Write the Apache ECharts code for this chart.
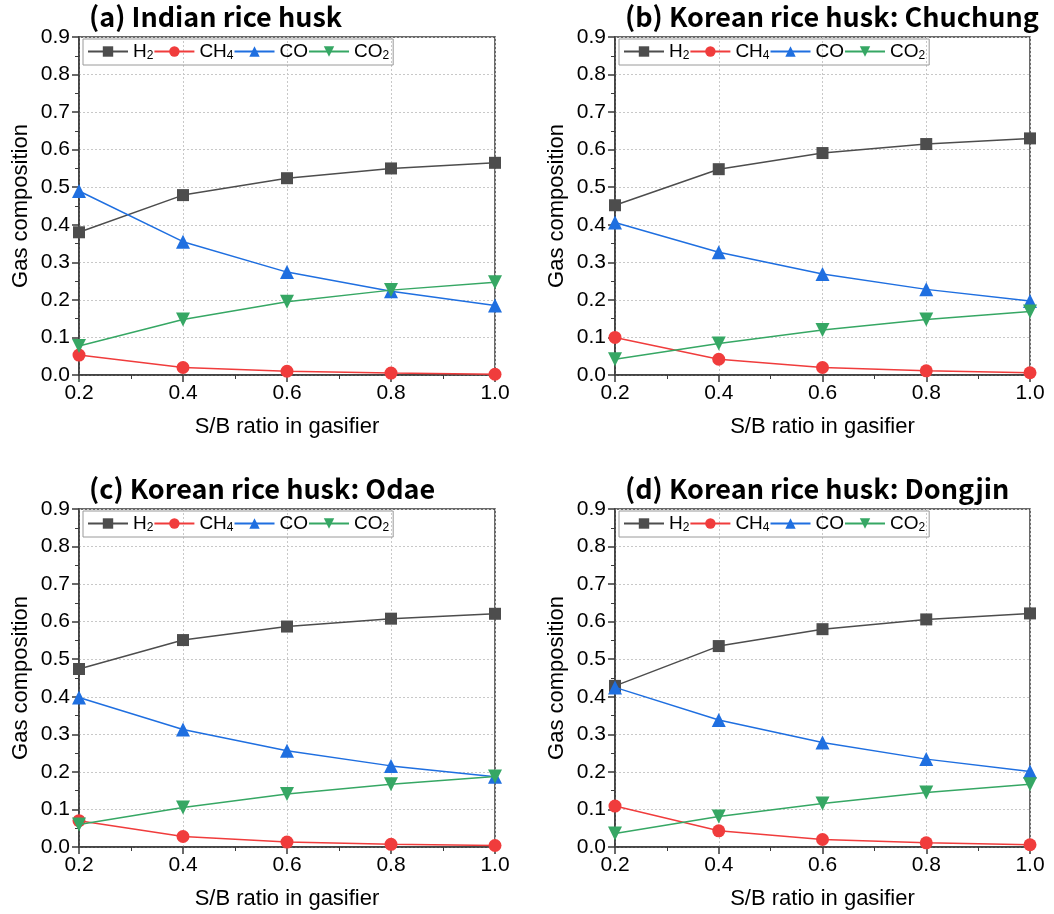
<!DOCTYPE html>
<html>
<head>
<meta charset="utf-8">
<script src="https://cdn.jsdelivr.net/npm/echarts@6/dist/echarts.min.js"></script>
<style>
  html, body { margin: 0; padding: 0; background: #fff; }
  #chart { width: 1054px; height: 914px; }
</style>
</head>
<body>
<div id="chart"></div>
<script>
// S/B ratio values shared by every panel
const sbRatio = [0.2, 0.4, 0.6, 0.8, 1.0]
const gasNames = ['H2', 'CH4', 'CO', 'CO2']
const panelTitles = [
  '(a) Indian rice husk',
  '(b) Korean rice husk: Chuchung',
  '(c) Korean rice husk: Odae',
  '(d) Korean rice husk: Dongjin'
]

// (a) Indian rice husk
const indianH2 = [0.380, 0.479, 0.524, 0.550, 0.565]
const indianCH4 = [0.053, 0.020, 0.010, 0.005, 0.002]
const indianCO = [0.490, 0.355, 0.274, 0.223, 0.185]
const indianCO2 = [0.077, 0.148, 0.195, 0.226, 0.247]

// (b) Chuchung
const chuchungH2 = [0.452, 0.548, 0.591, 0.615, 0.630]
const chuchungCH4 = [0.100, 0.042, 0.020, 0.011, 0.006]
const chuchungCO = [0.406, 0.327, 0.269, 0.228, 0.197]
const chuchungCO2 = [0.042, 0.084, 0.120, 0.148, 0.169]

// (c) Odae
const odaeH2 = [0.474, 0.551, 0.587, 0.608, 0.621]
const odaeCH4 = [0.070, 0.028, 0.013, 0.007, 0.004]
const odaeCO = [0.398, 0.313, 0.256, 0.216, 0.187]
const odaeCO2 = [0.060, 0.105, 0.141, 0.167, 0.188]

// (d) Dongjin
const dongjinH2 = [0.429, 0.535, 0.580, 0.606, 0.622]
const dongjinCH4 = [0.109, 0.043, 0.020, 0.011, 0.006]
const dongjinCO = [0.425, 0.338, 0.278, 0.234, 0.201]
const dongjinCO2 = [0.036, 0.081, 0.116, 0.145, 0.167]

const yTicks = [0, 0.1, 0.2, 0.3, 0.4, 0.5, 0.6, 0.7, 0.8, 0.9]

const panelData = [
  [indianH2, indianCH4, indianCO, indianCO2],
  [chuchungH2, chuchungCH4, chuchungCO, chuchungCO2],
  [odaeH2, odaeCH4, odaeCO, odaeCO2],
  [dongjinH2, dongjinCH4, dongjinCO, dongjinCO2]
]

const gasStyles = [
  { color: '#4d4d4d', symbol: 'rect', rotate: 0, size: 12 },
  { color: '#f03c3c', symbol: 'circle', rotate: 0, size: 13 },
  { color: '#1f6fe0', symbol: 'triangle', rotate: 0, size: 14 },
  { color: '#36a764', symbol: 'triangle', rotate: 180, size: 14 }
]

const gridBoxes = [
  { left: 79, top: 37, width: 416, height: 338 },
  { left: 615, top: 37, width: 415, height: 338 },
  { left: 79, top: 509, width: 416, height: 338 },
  { left: 615, top: 509, width: 415, height: 338 }
]

const chart = echarts.init(document.getElementById('chart'))

const labelFont = 'Liberation Sans, Arial, sans-serif'

const legendLabel = function(name) {
  if (name === 'H2') return 'H{sub|2}'
  if (name === 'CH4') return 'CH{sub|4}'
  if (name === 'CO2') return 'CO{sub|2}'
  return name
}

const grids = []
const xAxes = []
const yAxes = []
const titles = []
const legends = []
const series = []

gridBoxes.forEach((box, i) => {
  grids.push({
    left: box.left,
    top: box.top,
    width: box.width,
    height: box.height,
    show: true,
    borderColor: '#3a3a3a',
    borderWidth: 1.5,
    backgroundColor: 'transparent'
  })

  titles.push({
    text: panelTitles[i],
    left: box.left + 5,
    top: box.top - 39,
    textStyle: {
      fontFamily: 'Noto Sans CJK KR',
      fontWeight: 'bold',
      fontSize: 27,
      color: '#000'
    }
  })

  xAxes.push({
    type: 'value',
    gridIndex: i,
    min: 0.2,
    max: 1.0,
    interval: 0.2,
    name: 'S/B ratio in gasifier',
    nameLocation: 'middle',
    nameGap: 41,
    nameTextStyle: { fontFamily: labelFont, fontSize: 22, color: '#000' },
    axisLine: { lineStyle: { color: '#3a3a3a', width: 1.5 } },
    axisTick: { show: true, length: 7, lineStyle: { color: '#3a3a3a', width: 1.5 } },
    minorTick: { show: true, splitNumber: 2, length: 4, lineStyle: { color: '#3a3a3a', width: 1 } },
    axisLabel: {
      fontFamily: labelFont,
      fontSize: 21,
      color: '#000',
      margin: 8,
      formatter: v => v.toFixed(1)
    },
    splitLine: { show: true, lineStyle: { color: '#c8c8c8', type: [2, 2], width: 1 } }
  })

  yAxes.push({
    type: 'value',
    gridIndex: i,
    min: yTicks[0],
    max: yTicks[yTicks.length - 1],
    interval: 0.1,
    name: 'Gas composition',
    nameLocation: 'middle',
    nameGap: 47,
    nameTextStyle: { fontFamily: labelFont, fontSize: 22, color: '#000' },
    axisLine: { show: true, lineStyle: { color: '#3a3a3a', width: 1.5 } },
    axisTick: { show: true, length: 7, lineStyle: { color: '#3a3a3a', width: 1.5 } },
    minorTick: { show: true, splitNumber: 2, length: 4, lineStyle: { color: '#3a3a3a', width: 1 } },
    axisLabel: {
      fontFamily: labelFont,
      fontSize: 21,
      color: '#000',
      margin: 9,
      formatter: v => v.toFixed(1)
    },
    splitLine: { show: true, lineStyle: { color: '#c8c8c8', type: [2, 2], width: 1 } }
  })

  legends.push({
    data: gasNames,
    left: box.left + 4,
    top: box.top + 2,
    orient: 'horizontal',
    borderColor: '#9a9a9a',
    borderWidth: 1,
    borderRadius: 0,
    padding: [3, 4, 3, 4],
    itemGap: 0,
    itemWidth: 40,
    itemHeight: 13,
    selectedMode: false,
    formatter: legendLabel,
    textStyle: {
      fontFamily: labelFont,
      fontSize: 19,
      color: '#000',
      padding: [0, 2, 0, 0],
      rich: {
        sub: {
          fontFamily: labelFont,
          fontSize: 12,
          color: '#000',
          verticalAlign: 'bottom',
          padding: [9, 0, 0, 0]
        }
      }
    }
  })

  panelData[i].forEach((values, k) => {
    const st = gasStyles[k]
    series.push({
      name: gasNames[k],
      type: 'line',
      xAxisIndex: i,
      yAxisIndex: i,
      data: sbRatio.map((x, j) => [x, values[j]]),
      symbol: st.symbol,
      symbolSize: st.size,
      symbolRotate: st.rotate,
      showAllSymbol: true,
      animation: false,
      lineStyle: { color: st.color, width: 1.5 },
      itemStyle: { color: st.color, borderWidth: 0 },
      z: 3 + k
    })
  })
})

chart.setOption({
  backgroundColor: '#fff',
  animation: false,
  title: titles,
  legend: legends,
  grid: grids,
  xAxis: xAxes,
  yAxis: yAxes,
  series: series
})
</script>
</body>
</html>
